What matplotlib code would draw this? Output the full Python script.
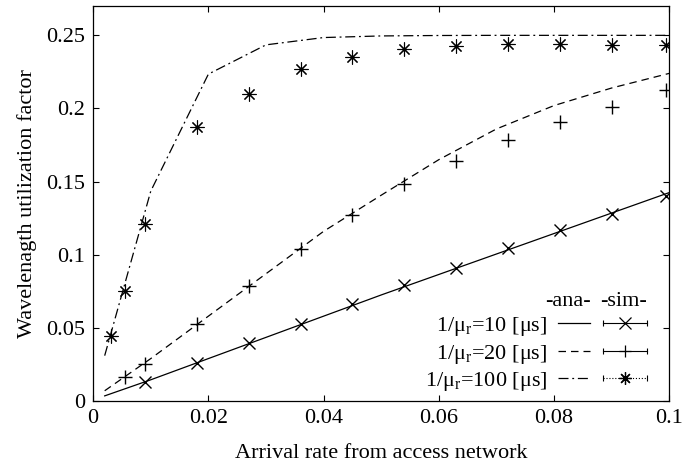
import matplotlib
matplotlib.use("Agg")
import matplotlib.pyplot as plt
from matplotlib.lines import Line2D
from matplotlib.legend_handler import HandlerLine2D, HandlerTuple

plt.rcParams["font.family"] = ["Liberation Serif", "DejaVu Serif"]
plt.rcParams["mathtext.fontset"] = "custom"
plt.rcParams["mathtext.rm"] = "Liberation Serif"
plt.rcParams["font.size"] = 16

# analytic curves
x_ana = [0.002, 0.01, 0.02, 0.03, 0.04, 0.05, 0.06, 0.07, 0.08, 0.09, 0.1]
ana_10 = [0.0035, 0.0145, 0.029, 0.0435, 0.058, 0.0725, 0.0865, 0.1005, 0.1145, 0.1285, 0.1425]
ana_20 = [0.007, 0.029, 0.058, 0.087, 0.116, 0.1407, 0.165, 0.186, 0.202, 0.214, 0.224]
ana_100 = [0.031, 0.1435, 0.2235, 0.2435, 0.2485, 0.2496, 0.2499, 0.25, 0.25, 0.25, 0.25]

# simulation points
x_sim_10 = [0.009, 0.018, 0.027, 0.036, 0.045, 0.054, 0.063, 0.072, 0.081, 0.090, 0.0995]
sim_10 = [0.0127, 0.0259, 0.0396, 0.0525, 0.066, 0.079, 0.0907, 0.1044, 0.1166, 0.128, 0.140]
x_sim_20 = [0.0055, 0.009, 0.018, 0.027, 0.036, 0.045, 0.054, 0.063, 0.072, 0.081, 0.090, 0.0995]
sim_20 = [0.0164, 0.0252, 0.0525, 0.0787, 0.1037, 0.127, 0.1485, 0.164, 0.1787, 0.1908, 0.201, 0.2128]
x_sim_100 = [0.0031, 0.0055, 0.009, 0.018, 0.027, 0.036, 0.045, 0.054, 0.063, 0.072, 0.081, 0.090, 0.0995]
sim_100 = [0.0445, 0.075, 0.121, 0.187, 0.210, 0.227, 0.235, 0.2406, 0.2424, 0.244, 0.244, 0.2433, 0.2435]

labels = ["1/\u03bc$_{\\mathrm{r}}$=10 [\u03bcs]",
          "1/\u03bc$_{\\mathrm{r}}$=20 [\u03bcs]",
          "1/\u03bc$_{\\mathrm{r}}$=100 [\u03bcs]"]

star = (8, 2, 0)
lw = 0.9

fig = plt.figure(figsize=(6.85, 4.69), dpi=100)
ax = fig.add_axes([0.136, 0.145, 0.841, 0.842])

l1, = ax.plot(x_ana, ana_10, color="black", lw=lw, ls="-")
l2, = ax.plot(x_ana, ana_20, color="black", lw=lw, ls=(0, (6, 4)))
l3, = ax.plot(x_ana, ana_100, color="black", lw=lw, ls=(0, (8, 3, 1.5, 3)))

ax.plot(x_sim_10, sim_10, ls="none", marker="x", ms=9, mew=1.0, color="black")
ax.plot(x_sim_20, sim_20, ls="none", marker="+", ms=10, mew=1.0, color="black")
ax.plot(x_sim_100, sim_100, ls="none", marker=star, ms=10, mew=0.8, color="black")

ax.set_xlim(0, 0.1)
ax.set_ylim(0, 0.27)
ax.set_xticks([0, 0.02, 0.04, 0.06, 0.08, 0.1])
ax.set_xticklabels(["0", "0.02", "0.04", "0.06", "0.08", "0.1"])
ax.set_yticks([0, 0.05, 0.1, 0.15, 0.2, 0.25])
ax.set_yticklabels(["0", "0.05", "0.1", "0.15", "0.2", "0.25"])
ax.tick_params(direction="in", length=4, width=0.8, top=True, right=True, pad=6)
for s in ax.spines.values():
    s.set_linewidth(0.9)

ax.set_xlabel("Arrival rate from access network", labelpad=11)
ax.set_ylabel("Wavelenagth utilization factor", labelpad=6)

# both legend parts share the same row layout; labels sit left of samples
leg_kw = dict(frameon=False, loc="lower right", borderpad=0, borderaxespad=0,
              labelspacing=0.2, markerfirst=False, handletextpad=0.5,
              alignment="right")

# legend part 1: analytic curves
leg_a = ax.legend([l1, l2, l3], labels, bbox_to_anchor=(0.863, 0.02),
                  handlelength=1.45, title="-ana-", **leg_kw)
leg_a.get_title().set_fontsize(16)
ax.add_artist(leg_a)

# legend part 2: simulation samples with end caps (labels hidden)
handles = []
hmap = {}
sim_styles = [("x", "-"), ("+", "-"), (star, ":")]
for m, ls in sim_styles:
    caps = Line2D([], [], color="black", lw=0.8, ls=ls, marker="|", ms=5, mew=0.8)
    mk = Line2D([], [], color="black", ls="none", marker=m, ms=9, mew=0.9)
    hmap[caps] = HandlerLine2D(numpoints=2, marker_pad=0)
    hmap[mk] = HandlerLine2D(numpoints=1)
    handles.append((caps, mk))
for h in handles:
    hmap[h] = HandlerTuple(ndivide=1, pad=0)

leg_s = ax.legend(handles, labels, bbox_to_anchor=(0.962, 0.02),
                  handlelength=2.0, title="-sim-", handler_map=hmap, **leg_kw)
leg_s.get_title().set_fontsize(16)
for t in leg_s.get_texts():
    t.set_alpha(0)

fig.savefig("out.png", dpi=100)
